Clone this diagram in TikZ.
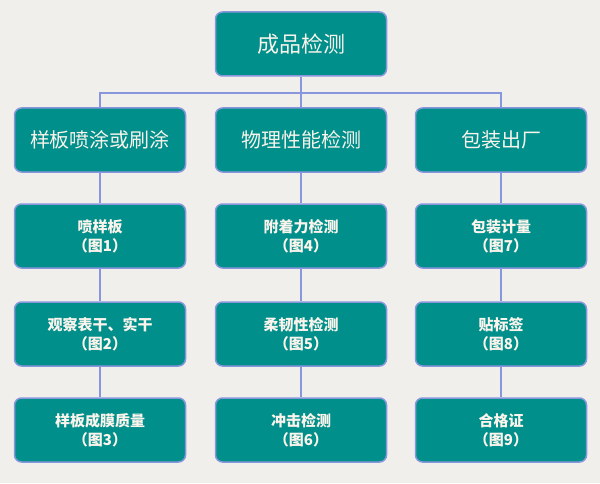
\documentclass[tikz,border=0pt]{standalone}
\usepackage{fontspec}
\usetikzlibrary{backgrounds}
\newfontfamily\cjk{Noto Sans CJK SC}
\definecolor{boxfill}{RGB}{0,143,138}
\definecolor{boxline}{RGB}{136,150,220}
\definecolor{boxtext}{RGB}{250,244,236}
\definecolor{paper}{RGB}{241,239,236}
\tikzset{
  tbox/.style={draw=boxline,line width=1.5pt,fill=boxfill,rounded corners=7pt,
    minimum width=171pt,minimum height=64pt,text=boxtext,align=center,font=\cjk},
  topbox/.style={tbox,font=\cjk\fontsize{22}{26}\selectfont},
  headbox/.style={tbox,font=\cjk\fontsize{20}{24}\selectfont},
  itembox/.style={tbox,font=\cjk\bfseries\fontsize{15}{19}\selectfont},
  link/.style={draw=boxline,line width=2.6pt}
}
\begin{document}
\begin{tikzpicture}[x=1pt,y=1pt]
\path[use as bounding box,fill=paper] (0,0) rectangle (600,483);

\node[topbox] (top) at (301,439) {成品检测};

\node[headbox] (h1) at (100,343) {样板喷涂或刷涂};
\node[headbox] (h2) at (301,343) {物理性能检测};
\node[headbox] (h3) at (501,343) {包装出厂};

\node[itembox] (a1) at (100,247) {喷样板\\（图1）};
\node[itembox] (a2) at (100,149) {观察表干、实干\\（图2）};
\node[itembox] (a3) at (100,53) {样板成膜质量\\（图3）};

\node[itembox] (b1) at (301,247) {附着力检测\\（图4）};
\node[itembox] (b2) at (301,149) {柔韧性检测\\（图5）};
\node[itembox] (b3) at (301,53) {冲击检测\\（图6）};

\node[itembox] (c1) at (501,247) {包装计量\\（图7）};
\node[itembox] (c2) at (501,149) {贴标签\\（图8）};
\node[itembox] (c3) at (501,53) {合格证\\（图9）};

% connectors
\coordinate (split) at (301,390);
\path[link] (top.south) -- (split);
\path[link] (h1.north) |- (split) -| (h3.north);
\path[link] (split) -- (h2.north);
\foreach \c/\h in {a/h1,b/h2,c/h3}{
  \path[link] (\h.south) -- (\c1.north);
  \path[link] (\c1.south) -- (\c2.north);
  \path[link] (\c2.south) -- (\c3.north);
}
\end{tikzpicture}
\end{document}
